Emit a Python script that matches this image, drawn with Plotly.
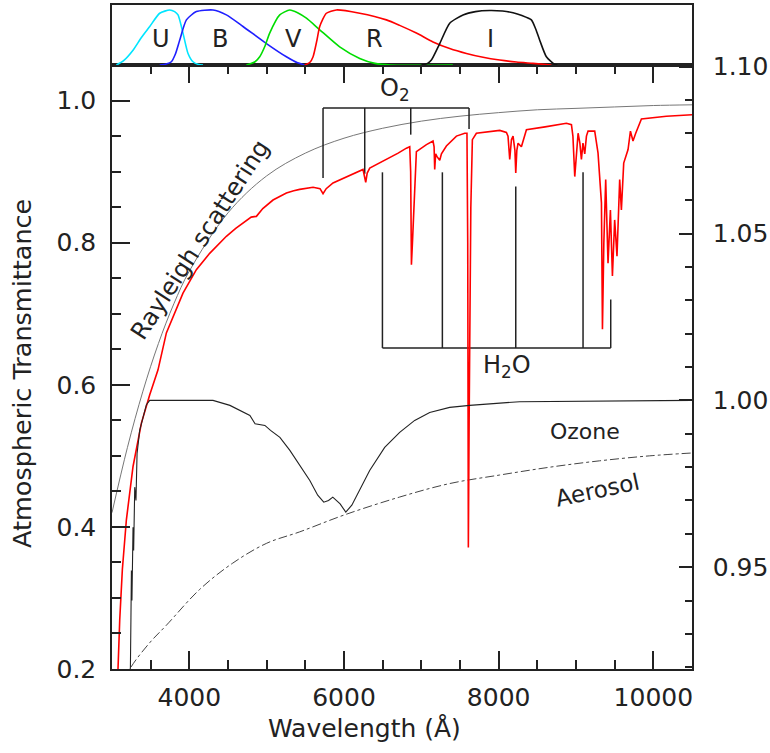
import plotly.graph_objects as go

# ---------------- data ----------------
wl_rayleigh = [3000, 3200, 3400, 3600, 3800, 4000, 4500, 5000, 5500, 6000, 6500,
               7000, 7500, 8000, 8500, 9000, 9500, 10000, 10500]
t_rayleigh = [0.420, 0.512, 0.591, 0.658, 0.714, 0.760, 0.842, 0.894, 0.926, 0.947,
              0.961, 0.971, 0.978, 0.983, 0.987, 0.989, 0.991, 0.993, 0.994]

wl_total = [3040, 3078, 3100, 3134, 3186, 3272, 3380, 3488, 3595, 3703, 3918, 4091,
            4263, 4400, 4479, 4600, 4694, 4800, 4867, 4950, 5082, 5170, 5255, 5350, 5427, 5600, 5690, 5729,
            5770, 5858, 6074, 6246, 6281, 6300, 6333, 6548, 6700, 6807, 6850, 6862,
            6872, 6885, 6902, 6920, 6936, 7066, 7151, 7165, 7173, 7185, 7203, 7238,
            7260, 7324, 7454, 7561, 7590, 7600, 7608, 7618, 7640, 7660, 7712, 8014,
            8100, 8121, 8143, 8165, 8186, 8210, 8221, 8235, 8251, 8294, 8359, 8600,
            8876, 8941, 8960, 8984, 9005, 9027, 9050, 9070, 9090, 9113, 9135, 9156,
            9242, 9285, 9329, 9342, 9360, 9384, 9414, 9445, 9471, 9500, 9530, 9565,
            9587, 9617, 9673, 9704, 9737, 9772, 9846, 10169, 10500]
t_total = [0.130, 0.201, 0.269, 0.340, 0.410, 0.485, 0.546, 0.586, 0.621, 0.673, 0.729, 0.762,
           0.785, 0.800, 0.809, 0.820, 0.828, 0.836, 0.837, 0.848, 0.860, 0.865, 0.870, 0.873, 0.875, 0.878, 0.876, 0.869,
           0.876, 0.884, 0.894, 0.903, 0.885, 0.898, 0.905, 0.917, 0.926, 0.933, 0.935, 0.900,
           0.769, 0.800, 0.846, 0.910, 0.928, 0.938, 0.943, 0.935, 0.903, 0.925, 0.921, 0.916,
           0.925, 0.936, 0.950, 0.954, 0.954, 0.800, 0.371, 0.550, 0.850, 0.945, 0.954, 0.958,
           0.955, 0.950, 0.917, 0.945, 0.950, 0.930, 0.898, 0.930, 0.940, 0.935, 0.959, 0.963,
           0.968, 0.966, 0.950, 0.893, 0.930, 0.954, 0.940, 0.917, 0.940, 0.925, 0.950, 0.957,
           0.957, 0.926, 0.856, 0.678, 0.800, 0.889, 0.771, 0.846, 0.753, 0.832, 0.781, 0.889,
           0.846, 0.912, 0.931, 0.957, 0.943, 0.954, 0.974, 0.978, 0.980]

wl_ozone = [3150, 3238, 3245, 3251, 3258, 3272, 3280, 3294, 3310, 3324, 3358, 3401, 3445,
            3488, 4306, 4525, 4650, 4783, 4850, 4977, 5050, 5171, 5300, 5429, 5558, 5660,
            5738, 5800, 5855, 5950, 6023, 6101, 6203, 6332, 6526, 6720, 6914, 7108, 7367,
            7625, 8271, 10500]
t_ozone = [0.900, 0.920, 0.935, 0.949, 0.940, 0.962, 0.955, 0.974, 0.970, 0.984, 0.991, 0.995, 0.9987,
           1.000, 1.000, 0.9985, 0.997, 0.9955, 0.993, 0.9925, 0.991, 0.9889, 0.985, 0.9805, 0.976, 0.9716,
           0.9695, 0.970, 0.971, 0.969, 0.9665, 0.9686, 0.9731, 0.979, 0.9859, 0.9904, 0.994, 0.9964, 0.9979,
           0.9985, 0.9996, 1.000]

wl_aerosol = [3150, 3242, 3488, 3707, 4134, 4561, 5001, 5427, 6009, 6720, 7367, 8014,
              8660, 9307, 9953, 10500]
t_aerosol = [0.180, 0.202, 0.237, 0.262, 0.312, 0.349, 0.377, 0.393, 0.417, 0.442, 0.461,
             0.473, 0.484, 0.493, 0.500, 0.504]

# absorption band markers
o2_wl = [5729, 6268, 6863, 7617]
o2_bottom = [0.891, 0.897, 0.952, 0.960]
o2_top = 0.9897
h2o_wl = [6497, 7272, 8221, 9091, 9449]
h2o_top = [0.899, 0.899, 0.879, 0.899, 0.720]
h2o_bottom = 0.6518

# filter transmission curves (normalised)
filt_U_wl = [3057, 3150, 3272, 3380, 3488, 3617, 3746, 3810, 3854, 3918, 3983, 4047, 4120, 4177]
filt_U = [0, 0.08, 0.27, 0.50, 0.70, 0.94, 1.0, 0.97, 0.91, 0.58, 0.21, 0.06, 0.01, 0]
filt_B_wl = [3617, 3700, 3768, 3820, 3875, 3962, 4091, 4306, 4479, 4694, 4997, 5255, 5400, 5492]
filt_B = [0, 0.02, 0.06, 0.20, 0.45, 0.82, 0.97, 1.0, 0.91, 0.70, 0.39, 0.15, 0.04, 0]
filt_V_wl = [4738, 4850, 4910, 4980, 5039, 5169, 5298, 5400, 5514, 5686, 5944, 6203, 6400, 6600, 7407]
filt_V = [0, 0.06, 0.15, 0.35, 0.58, 0.91, 1.0, 0.95, 0.85, 0.64, 0.33, 0.12, 0.03, 0, 0]
filt_R_wl = [5492, 5560, 5600, 5650, 5686, 5772, 5901, 6203, 6548, 6720, 6936, 7151, 7367,
             7583, 7798, 8014, 8230, 8444, 8682]
filt_R = [0, 0.05, 0.15, 0.45, 0.70, 0.94, 1.0, 0.94, 0.82, 0.72, 0.58, 0.42, 0.30,
          0.21, 0.14, 0.09, 0.055, 0.03, 0]
filt_I_wl = [7001, 7080, 7130, 7238, 7367, 7539, 7700, 7884, 8050, 8186, 8300, 8423, 8480,
             8531, 8617, 8725, 8760]
filt_I = [0, 0.03, 0.09, 0.39, 0.76, 0.91, 0.97, 0.99, 0.98, 0.95, 0.90, 0.82, 0.65,
          0.45, 0.15, 0.01, 0]

filter_names = ["U", "B", "V", "R", "I"]
filter_label_wl = [3639, 4394, 5341, 6397, 7893]
filter_colors = ["#00e5ff", "#1f1fff", "#00dd00", "#ff0000", "#111111"]

x_ticks = [4000, 6000, 8000, 10000]
x_ticktext = ["4000", "6000", "8000", "10000"]

# ---------------- figure ----------------
FONT = "DejaVu Sans"
TXT = "#222222"
fig = go.Figure()

# top panel filters
for wl, v, col in zip([filt_U_wl, filt_B_wl, filt_V_wl, filt_R_wl, filt_I_wl],
                      [filt_U, filt_B, filt_V, filt_R, filt_I], filter_colors):
    fig.add_trace(go.Scatter(x=wl, y=v, mode="lines", line=dict(color=col, width=1.6, shape="spline", smoothing=0.6),
                             xaxis="x2", yaxis="y2", showlegend=False, hoverinfo="skip"))

# main panel
fig.add_trace(go.Scatter(x=wl_aerosol, y=t_aerosol, mode="lines",
                         line=dict(color="#444444", width=1, dash="dashdot", shape="spline"),
                         showlegend=False))
fig.add_trace(go.Scatter(x=wl_rayleigh, y=t_rayleigh, mode="lines",
                         line=dict(color="#777777", width=1, shape="spline"), showlegend=False))

# band brackets
bx, by = [], []
bx += [o2_wl[0], o2_wl[-1], None]
by += [o2_top, o2_top, None]
for w, b in zip(o2_wl, o2_bottom):
    bx += [w, w, None]
    by += [o2_top, b, None]
bx += [h2o_wl[0], h2o_wl[-1], None]
by += [h2o_bottom, h2o_bottom, None]
for w, t in zip(h2o_wl, h2o_top):
    bx += [w, w, None]
    by += [h2o_bottom, t, None]
fig.add_trace(go.Scatter(x=bx, y=by, mode="lines", line=dict(color="#222222", width=1.5),
                         showlegend=False, connectgaps=False))

fig.add_trace(go.Scatter(x=wl_ozone, y=t_ozone, mode="lines", line=dict(color="#222222", width=1.1),
                         xaxis="x", yaxis="y3", showlegend=False))
fig.add_trace(go.Scatter(x=wl_total, y=t_total, mode="lines", line=dict(color="#ff0000", width=1.6),
                         showlegend=False))

axis_common = dict(showline=True, linecolor="#222222", linewidth=1.5, showgrid=False, zeroline=False,
                   tickcolor="#222222", tickwidth=1.5, automargin=False,
                   tickfont=dict(family=FONT, size=25, color=TXT))
minor_common = dict(ticks="inside", tickcolor="#222222", tickwidth=1.5)

SPLIT = 0.9096
fig.update_layout(
    width=770, height=753,
    margin=dict(l=112, r=78, t=5, b=84, autoexpand=False),
    paper_bgcolor="white", plot_bgcolor="white",
    font=dict(family=FONT, color=TXT),
    xaxis=dict(domain=[0, 1], range=[3000, 10500], anchor="y",
               tickmode="array", tickvals=x_ticks, ticktext=x_ticktext, ticks="inside", ticklen=18,
               mirror="ticks", ticklabelstandoff=5,
               minor=dict(dtick=500, tick0=0, ticklen=9, **minor_common),
               **axis_common),
    yaxis=dict(domain=[0, SPLIT], range=[0.2, 1.05], anchor="x", side="left",
               tick0=0.2, dtick=0.2, tickformat=".1f", ticks="inside", ticklen=18,
               ticklabelstandoff=9,
               minor=dict(dtick=0.05, tick0=0, ticklen=9, **minor_common),
               **axis_common),
    yaxis3=dict(overlaying="y", side="right", anchor="x", range=[0.9195, 1.1005],
                tick0=0, dtick=0.05, tickformat=".2f", ticks="inside", ticklen=13,
                ticklabelstandoff=14,
                minor=dict(dtick=0.01, tick0=0, ticklen=7, **minor_common),
                **axis_common),
    xaxis2=dict(domain=[0, 1], range=[3000, 10500], anchor="y2", showticklabels=False, ticks="",
                showline=True, mirror=True, linecolor="#222222", linewidth=1.5, showgrid=False,
                zeroline=False, automargin=False),
    yaxis2=dict(domain=[SPLIT, 1], range=[0, 1.09], anchor="x2", showticklabels=False, ticks="",
                showline=True, mirror=True, linecolor="#222222", linewidth=1.5, showgrid=False,
                zeroline=False, automargin=False),
)

ann = []
for name, w in zip(filter_names, filter_label_wl):
    ann.append(dict(x=w, y=0.47, xref="x2", yref="y2", text=name, showarrow=False,
                    font=dict(family=FONT, size=24, color=TXT)))
ann.append(dict(x=4136, y=0.804, xref="x", yref="y", text="Rayleigh scattering", showarrow=False,
                textangle=-57, font=dict(family=FONT, size=24, color=TXT)))
ann.append(dict(x=6656, y=1.0155, xref="x", yref="y", text="O<sub>2</sub>", showarrow=False,
                font=dict(family=FONT, size=24, color=TXT)))
ann.append(dict(x=8104, y=0.6255, xref="x", yref="y", text="H<sub>2</sub>O", showarrow=False,
                font=dict(family=FONT, size=24, color=TXT)))
ann.append(dict(x=9115, y=0.534, xref="x", yref="y", text="Ozone", showarrow=False,
                font=dict(family=FONT, size=22, color=TXT)))
ann.append(dict(x=9282, y=0.452, xref="x", yref="y", text="Aerosol", showarrow=False,
                textangle=-12, font=dict(family=FONT, size=23, color=TXT)))
# axis titles
ann.append(dict(x=(364 - 112) / 580, y=-(728 - 669) / 664, xref="paper", yref="paper",
                xanchor="center", yanchor="middle",
                text="Wavelength (Å)", showarrow=False, font=dict(family=FONT, size=25, color=TXT)))
ann.append(dict(x=(22 - 112) / 580, y=(669 - 374) / 664, xref="paper", yref="paper",
                xanchor="center", yanchor="middle",
                text="Atmospheric Transmittance", showarrow=False, textangle=-90,
                font=dict(family=FONT, size=25.5, color=TXT)))
fig.update_layout(annotations=ann)

fig.write_html("out.html")
